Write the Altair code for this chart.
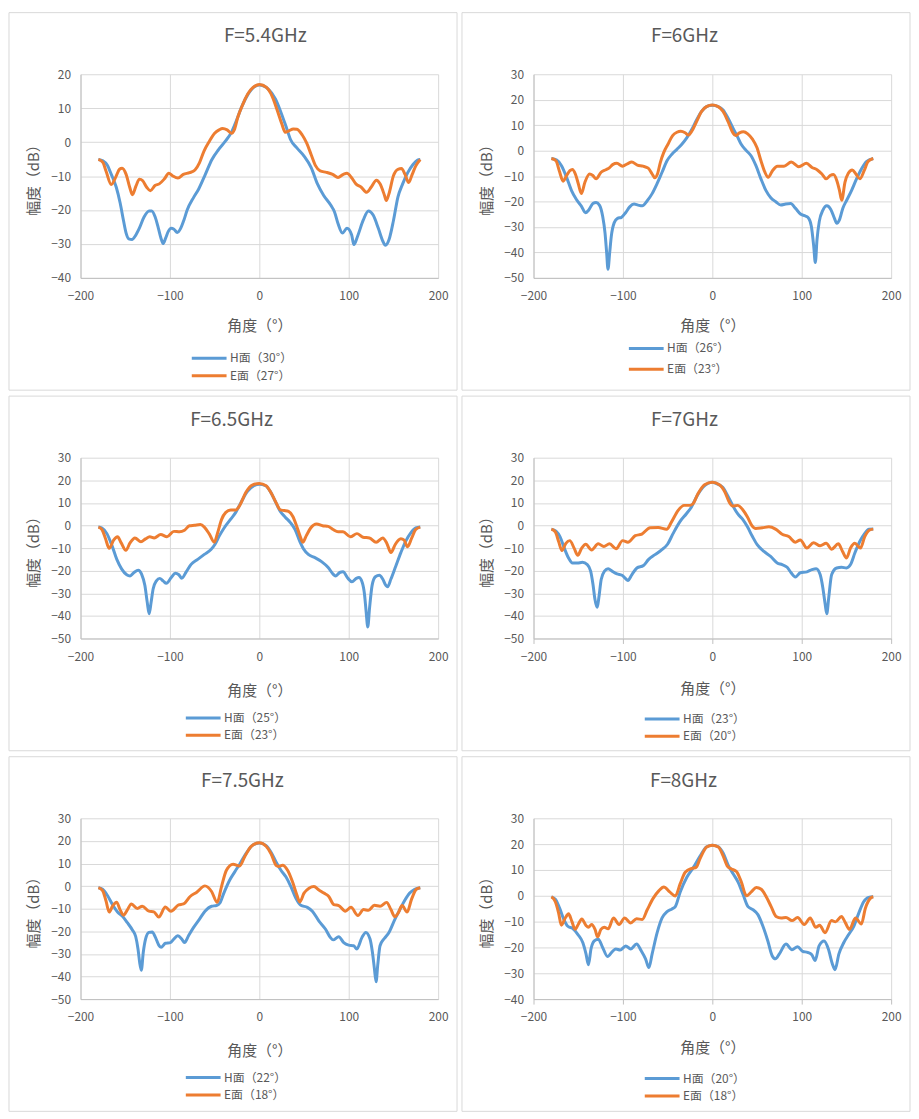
import altair as alt
import pandas as pd

FONT = "Noto Sans CJK SC"
TEXT = "#595959"
GRID = "#d9d9d9"
AXIS = "#bfbfbf"
BORDER = "#d9d9d9"
BLUE = "#5b9bd5"
ORANGE = "#ed7d31"

# ---- F=5.4GHz ----
h54_deg = [-180, -175, -170, -165.6, -160, -155.6, -152, -149, -146, -142.4, -138.7, -134.3, -128.8,
           -123.3, -120.3, -116.6, -112.9, -110, -107.7, -104.8, -101.8, -98.5, -95.5, -91.8, -88,
           -84.4, -80.7, -73.3, -67.8, -60.4, -53, -45.6, -38.2, -30.8, -25.4, -19.9, -12.4, -5, 0,
           10, 18, 24, 30, 35, 42, 50, 58, 65, 72, 80, 84, 88, 92.9, 98, 103.2, 105.8, 109.8, 116.2,
           122, 127.3, 133.1, 138.2, 141.1, 145.1, 150.1, 155, 160.3, 166, 171.9, 177, 180]
h54_db = [-5.1, -5.5, -6.8, -9.5, -13.3, -18, -23, -26.8, -28.5, -28.7, -27.6, -25.4, -22,
          -20.3, -20.3, -22, -25.4, -28.3, -29.9, -28.3, -26.3, -25.4, -25.7, -26.6, -25.4,
          -23, -20, -16.2, -13.8, -9.5, -5.1, -2.2, 0.2, 3.1, 6.5, 10.3, 14.2, 16.4, 16.8,
          15.6, 12.7, 8.9, 4.5, 0.7, -1.7, -4.1, -7.5, -12.3, -15.7, -18.6, -20.5, -24, -26.8, -25.4, -27.3,
          -30.2, -27.8, -23, -20.3, -21.5, -25.4, -29.2, -30.4, -28.7, -23, -16.2, -12.3, -9, -6.6, -5.3, -5.1]
e54_deg = [-180, -175, -171.5, -165.6, -160.1, -156.4, -153.5, -149, -145, -142, -137.8, -134.1, -130.4,
           -126, -121.9, -116.7, -111.9, -106.4, -101.2, -97.2, -91, -85, -78, -72, -67, -62, -56, -50,
           -45, -41, -36, -31, -28, -24, -19, -13, -7, 0, 8, 14, 20, 25, 29, 33, 38, 42, 48, 53, 58, 63,
           68, 75, 82, 88, 94, 98, 103, 108, 114, 120, 125, 131, 135, 140, 142, 145, 150, 155, 159, 163,
           167, 171, 175, 180]
e54_db = [-5.1, -6, -8.5, -12.5, -10, -8, -7.7, -9.5, -13.3, -15.5, -12.8, -10.9, -11.4,
          -13.3, -14.3, -12.8, -12.3, -10.9, -9.2, -9.9, -10.6, -9.5, -9, -8.2, -6.1, -2.7, 0.2, 2.6,
          3.6, 4, 3.6, 2.6, 3.6, 7.4, 10.8, 14.2, 16.1, 17, 16.1, 13.7, 9.4, 5.5, 2.9, 3.3, 3.9, 3.8,
          2.1, -0.3, -3.7, -7, -8.5, -8.9, -9.5, -10.4, -9.5, -9.2, -10.4, -12.3, -13.3, -14.8, -13.3,
          -11.2, -12.3, -15.7, -17.2, -15.2, -9.9, -8, -7.8, -9.5, -11.9, -9.5, -7, -5.1]

# ---- F=6GHz ----
h60_deg = [-180, -174, -168.7, -163, -157.6, -152, -146.5, -141.8, -138.4, -133.6, -130, -126.3, -122.6,
           -120, -118.2, -116.7, -114.8, -113, -109.7, -106, -101.6, -96.8, -92.4, -87.6, -83.1, -78.3,
           -72.8, -67.3, -61.8, -56.2, -50.7, -45.2, -39.6, -34.1, -28.6, -23, -17.5, -12, -6.5, 0, 6.5,
           12, 17.5, 23, 27.8, 32.3, 37.8, 43.3, 48.8, 54.4, 59.9, 65.4, 71, 76.5, 82, 87.6, 93.1, 98.6,
           104.1, 107.8, 110.8, 113.4, 115.2, 117.1, 119.6, 123.7, 128.1, 132.5, 136.6, 139.2, 142.2,
           145.9, 150.3, 155.8, 161.3, 166.8, 172.4, 180]
h60_db = [-3.1, -3.7, -5.9, -10.5, -15.6, -19.2, -21.8, -24.4, -23.4, -20.8, -20.4, -21.4, -25.9,
          -32.4, -40.1, -46.6, -40.1, -33.7, -28.3, -26.6, -26.2, -24.3, -22.1, -21, -21.4, -21.7,
          -19.7, -16.9, -13, -8.5, -4, -1.4, 0.5, 2.5, 5, 8.3, 12.1, 15.4, 17.3, 17.8, 17.3,
          16, 12.8, 8.9, 5.7, 2.5, 0.1, -2, -5.9, -11.1, -15.6, -18.5, -20.1, -21.4, -21, -20.8, -22.7, -24.9,
          -25.7, -26.6, -29.8, -37.5, -44, -35, -27.9, -23.4, -21.7, -23.1, -26.6, -28.5, -27.2,
          -22.7, -19.5, -15.6, -11.1, -7.2, -4.3, -3.1]
e60_deg = [-180, -174.9, -171.2, -166.8, -163, -159.3, -156.5, -153.2, -149.9, -146.5, -142.5, -137.3,
           -133.6, -130, -124.4, -118.9, -115.2, -111.5, -106.7, -100.5, -95, -90.1, -83.9, -77.6, -71.7,
           -67.3, -64.3, -61.4, -58.1, -54.4, -49.6, -44.4, -39.6, -35.2, -30.4, -26.7, -23, -17.5, -12,
           -6.5, 0, 6.5, 12, 17.5, 23, 26, 30.4, 34.8, 39.6, 45.1, 49.9, 54.4, 58.8, 62.5, 67.3, 72.8,
           80.2, 88.3, 96.8, 105.3, 111.5, 117.1, 122.6, 127.4, 131.8, 135.5, 139.2, 142.2, 144.7,
           148.4, 152.1, 156.5, 160.6, 165, 169.8, 174.2, 180]
e60_db = [-3.1, -4, -7.9, -12, -9.8, -7.9, -7.4, -9.2, -13, -16.9, -12.4, -9.2,
          -9.8, -11.1, -8.5, -7.5, -6.8, -5.5, -5, -6.1, -5.2, -4.5, -5.7, -6.1, -6.9,
          -9.2, -10.7, -9.2, -4.6, -0.8, 2.5, 5.9, 7.2, 7.6, 7, 6.1, 7.6, 11.5, 15.4,
          17.3, 17.9, 17.3, 15.4, 11.5, 7, 5.9, 7, 7.4, 6.6, 4.4, 1.2, -4, -8.5, -10.5, -7.9, -6.1,
          -6.1, -4.5, -6.3, -5, -6.6, -7.5, -9.2, -11.1, -9.8, -9.4, -11.7, -15.6, -19.5,
          -12.4, -8.9, -7.6, -9.2, -11.1, -7.9, -4.3, -3.1]

# ---- F=6.5GHz ----
h65_deg = [-180, -176, -170.5, -164.9, -159.4, -153.9, -148.3, -144.6, -140.2, -135.4, -131.7, -128,
           -125.4, -123.2, -121, -118.8, -115.1, -111.4, -107.7, -104, -98.5, -94, -90, -86.7, -81.8,
           -76.3, -68.9, -61.5, -54.1, -49.7, -44.9, -39.4, -32, -26.4, -20.9, -13.5, -6.1, 0, 7, 12.4,
           17.9, 23.5, 29, 34.5, 40, 45.6, 49.3, 54.8, 62.2, 69.6, 77, 82.5, 85.1, 89.9, 93.6, 99.2,
           103.6, 108.4, 111.4, 115.1, 117.6, 119.5, 121.3, 123.2, 126.1, 129.8, 134.3, 138, 141.7,
           143.5, 147.2, 152.7, 158.3, 163.8, 169.4, 174.9, 180]
h65_db = [-0.7, -1.1, -3.6, -8.8, -15, -19.3, -21.8, -22.3, -20.8, -19.8, -21.5, -26.6,
          -33.9, -39.1, -33.9, -28.1, -24.5, -23.4, -24.5, -25.6, -23, -21.1, -21.8, -23.3, -20.5,
          -17.2, -15, -12.8, -10.6, -8.4, -4.7, -1.1, 2.8, 5.8, 9.9, 15, 17.6, 18.3, 17.6, 15,
          10.6, 6.2, 3.7, 1.4, -1.8, -7.4, -10.3, -12.8, -14.2, -16, -18.6, -21.5, -22.3, -20.8, -20.5, -23.4,
          -24.9, -23.4, -23, -25.2, -30.3, -38.3, -44.9, -36.9, -26.6, -22.7, -22, -23.7, -26.6,
          -27.1, -23.7, -17.9, -12, -6.9, -3.3, -1.1, -0.7]
e65_deg = [-180, -176, -172.3, -167.9, -163, -158.6, -154.5, -149.3, -144.6, -139.1, -132.4, -127.3,
           -122.5, -117.6, -110.3, -103.3, -95.5, -89.2, -83.7, -78.1, -72.6, -65.9, -61.5, -56, -50.4,
           -46.7, -42.3, -37.5, -32, -26.4, -21.6, -15.3, -7.9, 0, 7.6, 13.1, 19, 23.5, 27.9, 32.7, 37.5,
           41.9, 45.6, 48.6, 52.3, 57.4, 64, 70.7, 77, 82.5, 88.1, 93.6, 101.8, 109.2, 115.9, 123.2,
           130.6, 138, 142.4, 147.2, 152, 158.3, 162, 165.7, 170.5, 174.9, 180]
e65_db = [-0.7, -1.8, -5.5, -10.1, -6.5, -5, -7.7, -11, -7.7, -5.5, -7.2, -5.9,
          -5, -5.5, -4, -5, -2.6, -2.8, -2.1, -0.1, 0.1, 0.4, -0.7, -3.7, -7.4,
          -3.3, 2.6, 5.8, 6.9, 6.9, 9.1, 14.5, 17.9, 18.6, 17.6, 14.5, 9.9, 6.9, 6.6, 6.2, 4,
          -0.4, -4.7, -7.4, -4.7, -1.1, 0.7, -0.1, -0.4, -1.8, -2.8, -2.8, -5, -3.6, -5.2, -5.5,
          -7.4, -5.5, -7.7, -12, -8.4, -5.9, -6.5, -9.4, -5.5, -1.8, -0.7]

# ---- F=7GHz ----
h70_deg = [-180, -174.9, -170.4, -165.6, -160.8, -156.4, -150.9, -145.3, -139.8, -136.1, -133.5, -131.3,
           -128.7, -126.9, -124.3, -120.6, -116.5, -112.1, -106.6, -101, -97.3, -94.4, -89.9, -84.4, -77,
           -71.5, -64.1, -56.7, -50.1, -43.8, -36.4, -29, -23.5, -17.9, -10.5, -5, 0, 6.1, 11.6, 17.2,
           22.7, 28.3, 33.8, 39.3, 44.9, 50.4, 57.8, 65.2, 72.6, 78.1, 83.7, 88.1, 92.9, 98.4, 105.8,
           111.4, 116.2, 120.6, 123.6, 126.2, 128, 130.2, 133.5, 139.1, 144.6, 150.1, 154.6, 159.4,
           164.9, 170.5, 175.3, 180]
h70_db = [-1.6, -2.5, -4.9, -10, -14.4, -16.6, -16.6, -16.3, -17.3, -20.2, -26, -32.6,
          -36.2, -31.9, -23.9, -20.2, -19.1, -20.2, -21.4, -22, -23.4, -24.3, -21.7, -18.8, -17.7,
          -15.1, -12.9, -10.8, -8.3, -3.5, 1.6, 5.2, 8.1, 12.5, 16.9, 18.6, 19.1, 18.3, 16.9, 13.2,
          8.9, 5.2, 2.8, -0.6, -4.9, -8.6, -11.5, -13.7, -16.6, -17.3, -18.5, -20.9, -22.8, -20.9, -20.5,
          -19.5, -19.1, -21.7, -27.5, -34.8, -39.1, -31.9, -21.7, -18.8, -18.5, -18.8, -17.3, -12.2,
          -7.1, -3.5, -1.7, -1.6]
e70_deg = [-180, -175.6, -171.9, -168.2, -163.8, -159.4, -154.6, -150.5, -146.1, -141.6, -135, -127.6,
           -121.3, -115, -107.7, -100.3, -94.4, -86.2, -78.8, -69.6, -60.4, -51.1, -45.6, -38.2, -31.6,
           -25.3, -21.6, -16.1, -8.7, 0, 7.9, 14.2, 19, 22.7, 28.3, 33.8, 39.3, 44.1, 48.6, 55.9, 63.3,
           70.7, 78.1, 85.5, 92.9, 98.4, 105.8, 113.2, 120.6, 127.3, 133.5, 140.9, 145.7, 150.1, 154.6,
           159.4, 165.7, 170.5, 176, 180]
e70_db = [-1.6, -2.8, -7.1, -11.1, -7.9, -6.7, -10, -13.2, -10, -8.3, -10.8, -8.1,
          -9.3, -8.1, -10.3, -6.7, -7.4, -4.5, -3.8, -1, -0.9, -1.7, 1.6, 6.7, 8.9,
          8.9, 9.6, 14, 18, 19.1, 18, 14.7, 10.3, 8.6, 8.9, 7.1, 3.8, 0.1, -1.3, -1, -0.6,
          -1.6, -3.9, -4.9, -7.4, -6.4, -10, -7.6, -9, -7.9, -10.5, -8.1, -11.5, -14.4, -10,
          -7.9, -10, -4.9, -2, -1.6]

# ---- F=7.5GHz ----
h75_deg = [-180, -175.3, -169.7, -164.2, -158.6, -153.1, -147.6, -142, -138.3, -135.7, -133.9, -132,
           -129.8, -127.2, -123.5, -119.8, -116.2, -112.5, -109.9, -105.1, -99.5, -95.8, -91.4, -86.6,
           -83.7, -79.2, -73.7, -67.1, -60.8, -53.4, -47.8, -44.1, -39.7, -33.1, -27.5, -22, -14.6, -7.2,
           0, 7.6, 13.1, 18.7, 24.2, 29.7, 35.3, 40.8, 46.4, 53.7, 59.3, 66.7, 74.1, 79.6, 82.5, 88.8,
           94.4, 99.9, 105.5, 109.1, 114.7, 119.1, 123.9, 126.5, 128.7, 130.6, 132.4, 135, 139.8, 145,
           151.6, 157.2, 162.7, 168.2, 173.8, 180]
h75_db = [-0.7, -1.4, -4.3, -8.2, -11.5, -13.3, -16.2, -19.4, -22.3, -27.8, -33.6, -37.2,
          -29.3, -23.4, -20.5, -20.3, -22.7, -26.1, -27.1, -25.3, -25, -23.5, -22, -23.5,
          -25, -22, -18.4, -14.7, -11.1, -8.9, -8.6, -7.5, -3.1, 2.7, 6.3, 9.7, 14.6, 18.2,
          19.1, 17.9, 15, 10.7, 7, 4.1, -0.2, -5.3, -8.5, -9.4, -11.1, -15.5, -19.1, -22.8, -23.8, -22.4,
          -25, -26.1, -26.4, -27.8, -22.8, -20.5, -23.5, -29.3, -36.5, -42.3, -35.1, -26.4, -23.2, -20.5,
          -14.7, -10.4, -6.3, -3.1, -1.4, -0.7]
e75_deg = [-180, -175.3, -171.6, -167.9, -164.2, -159.7, -155.7, -152, -147.6, -143.1, -136.5, -130.9,
           -123.5, -118, -112.5, -105.1, -98.8, -90.3, -84.8, -77.4, -70, -60.8, -53.4, -47.1, -42.3,
           -36.8, -29.4, -22, -16.5, -9.1, 0, 7.6, 13.1, 18.7, 21.6, 26, 31.6, 37.1, 41.9, 45.2, 50,
           55.6, 61.1, 66.7, 72.2, 77.7, 83.3, 88.8, 96.2, 102.5, 110.3, 116.6, 122.1, 128.7, 135,
           142.4, 147.2, 151.6, 155.3, 159.7, 165.3, 170.1, 175.6, 180]
e75_db = [-0.7, -2, -6.4, -11.5, -8.9, -7.1, -10.5, -12.9, -10.5, -7.9, -9.9, -8.9,
          -11.1, -11.4, -13.7, -9.3, -11.1, -8.3, -7.9, -4.6, -2.7, 0.1, -2.4, -7.2, -0.2,
          7, 9.7, 8.9, 12.9, 17.6, 19.2, 17.6, 14.3, 9.2, 8.7, 9.2, 7, 1.9, -3.8, -7, -3.1,
          -0.9, -0.2, -1.7, -3.1, -4.6, -8.2, -8.6, -11.1, -9.4, -13, -10.4, -10.7, -8.5, -8.9,
          -7.2, -10.4, -13.6, -11.9, -8.6, -11.5, -6, -1.4, -0.7]

# ---- F=8GHz ----
h80_deg = [-180, -175.6, -170.8, -166, -161.6, -156, -150.5, -144.9, -141.3, -138.6, -135.7, -132,
           -127.5, -122.7, -117.2, -111.6, -107.9, -103.1, -96.9, -91.3, -84.7, -79.5, -74.7, -71, -67.3,
           -61.7, -56.2, -50.6, -45.1, -41.4, -35.9, -28.5, -21.1, -13.7, -6.3, 0, 6.7, 12.2, 17.7, 23.3,
           28.8, 34.4, 39.9, 45.5, 51, 56.6, 62.1, 66.9, 70.6, 75, 82.4, 89.1, 95.4, 101, 106.5, 111.3,
           115, 119.4, 125, 129.8, 134.2, 137.2, 141.6, 147.1, 152.7, 158.2, 163.8, 169.3, 174.9, 180]
h80_db = [-0.4, -1.3, -4.8, -9.2, -11.8, -12.7, -14.9, -18.1, -22.5, -26.7, -20.6, -17.5,
          -16.8, -20, -23.5, -21.5, -20.6, -21, -19.4, -20.6, -18.7, -21.3, -24.4, -27.8, -22.5,
          -14.3, -8.6, -6.1, -5.1, -4.2, 1.5, 7.2, 11, 15.4, 19, 19.6, 19, 16.5, 11.9, 8.5,
          5.3, 0.5, -4.2, -5.4, -7.3, -11.8, -17.5, -23.2, -24.4, -22.5, -18.7, -20.9, -19.7, -21.5, -21.9, -22.8,
          -25.1, -19.4, -17.5, -20.6, -26.3, -28.6, -22.5, -18.1, -14.9, -11.8, -6.7, -2.3, -0.6, -0.4]
e80_deg = [-180, -175.6, -171.9, -168.9, -164.5, -160.8, -157.1, -153.4, -149.7, -146, -141.3, -138.6,
           -135, -131.2, -128.3, -124.6, -120.9, -116.5, -110.5, -104.3, -98, -91.3, -84.7, -78.4, -72.8,
           -66.2, -59.9, -54.3, -47.7, -41.4, -35.9, -30.3, -22.9, -18.1, -13.7, -6.3, 0, 6.7, 12.2, 17,
           21.4, 27, 32.5, 38.1, 43.6, 49.2, 54.7, 60.3, 65.8, 71.3, 76.9, 82.4, 89.1, 95.4, 102.8, 109.5,
           115.7, 120.1, 126, 133.4, 137.8, 144.5, 148.9, 153.4, 160.1, 166.7, 171.2, 176.7, 180]
e80_db = [-0.4, -2.3, -6.7, -11.4, -8.6, -7, -9.9, -13, -10.9, -9, -11.5, -12.2,
          -11.1, -13, -15.9, -13, -12.2, -12.8, -8.6, -11.1, -8.6, -10.5, -8.9, -9.2, -5.4,
          -1, 1.9, 3.4, 1.5, -0.1, 4.7, 9.1, 10.6, 11, 14.4, 18.9, 19.6, 18.9, 15.4, 11.4,
          10.4, 9.4, 5.3, 0, 1.5, 3.2, 2.5, -0.4, -4.2, -8, -8.6, -8.4, -9.6, -8.4, -11.1, -8.6,
          -12.2, -11.4, -14.3, -9.6, -10.1, -8, -10.5, -13, -8.6, -10.9, -4.8, -1, -0.4]

titles = ["F=5.4GHz", "F=6GHz", "F=6.5GHz", "F=7GHz", "F=7.5GHz", "F=8GHz"]
h_names = ["H面（30°）", "H面（26°）", "H面（25°）", "H面（23°）", "H面（22°）", "H面（20°）"]
e_names = ["E面（27°）", "E面（23°）", "E面（23°）", "E面（20°）", "E面（18°）", "E面（18°）"]
y_domains = [(-40, 20), (-50, 30), (-50, 30), (-50, 30), (-50, 30), (-40, 30)]
x_ticks = [-200, -100, 0, 100, 200]

series = [
    (h54_deg, h54_db, e54_deg, e54_db),
    (h60_deg, h60_db, e60_deg, e60_db),
    (h65_deg, h65_db, e65_deg, e65_db),
    (h70_deg, h70_db, e70_deg, e70_db),
    (h75_deg, h75_db, e75_deg, e75_db),
    (h80_deg, h80_db, e80_deg, e80_db),
]

# layout of each panel, in pixels relative to the plot area's top left corner
PLOT_W = 360
layout = [
    dict(height=205, title_x=186, xtitle=48, legend_x=112, legend_y=81, gap=3.5, ticks=False),
    dict(height=205, title_x=152, xtitle=48, legend_x=96, legend_y=71, gap=7, ticks=False),
    dict(height=182, title_x=152, xtitle=52, legend_x=106, legend_y=80, gap=3.5, ticks=False),
    dict(height=182, title_x=152, xtitle=50, legend_x=112, legend_y=81, gap=3.5, ticks=True),
    dict(height=182, title_x=163, xtitle=52, legend_x=106, legend_y=79, gap=3.5, ticks=False),
    dict(height=182, title_x=151, xtitle=49, legend_x=112, legend_y=80, gap=3.5, ticks=True),
]


def make_panel(title, h_name, e_name, data, y_domain, cfg):
    h_deg, h_db, e_deg, e_db = data
    height = cfg["height"]
    h_frame = pd.DataFrame({"angle": h_deg, "db": h_db, "series": h_name})
    e_frame = pd.DataFrame({"angle": e_deg, "db": e_db, "series": e_name})

    tick_len = 5 if cfg["ticks"] else 0
    x = alt.X(
        "angle:Q",
        scale=alt.Scale(domain=[-200, 200], nice=False),
        axis=alt.Axis(
            values=x_ticks,
            title="角度（°）",
            titleX=PLOT_W / 2,
            titleY=cfg["xtitle"],
            titleBaseline="middle",
            ticks=cfg["ticks"],
            tickSize=max(tick_len, 1),
            tickColor=AXIS,
            labelPadding=13 - tick_len,
            labelFlush=False,
        ),
    )
    y = alt.Y(
        "db:Q",
        scale=alt.Scale(domain=list(y_domain), nice=False),
        axis=alt.Axis(
            values=list(range(y_domain[0], y_domain[1] + 1, 10)),
            title="幅度（dB）",
            titleX=-47,
            titleY=height / 2,
            titleBaseline="middle",
            ticks=False,
            labelPadding=10,
        ),
    )
    color = alt.Color(
        "series:N",
        scale=alt.Scale(domain=[h_name, e_name], range=[BLUE, ORANGE]),
        legend=alt.Legend(
            title=None,
            orient="none",
            direction="vertical",
            legendX=cfg["legend_x"] - 1.5,
            legendY=height + cfg["legend_y"] - 7,
            symbolType="stroke",
            symbolSize=1225,
            symbolStrokeWidth=3,
            clipHeight=14,
            rowPadding=cfg["gap"],
            padding=0,
            labelOffset=2,
            labelFont=FONT,
            labelFontSize=12,
            labelColor=TEXT,
            labelLimit=200,
        ),
    )

    h_line = alt.Chart(h_frame).mark_line(strokeWidth=3, interpolate="monotone").encode(x=x, y=y, color=color)
    e_line = alt.Chart(e_frame).mark_line(strokeWidth=3, interpolate="monotone").encode(x=x, y=y, color=color)

    box = alt.Chart(alt.Data(values=[{}])).mark_rect(
        filled=False, stroke=BORDER, strokeWidth=1
    ).encode(
        x=alt.value(-72), x2=alt.value(PLOT_W + 19),
        y=alt.value(-62), y2=alt.value(height + 113),
    )
    head = alt.Chart(alt.Data(values=[{}])).mark_text(
        text=title, font=FONT, fontSize=19, color=TEXT, align="center", baseline="alphabetic"
    ).encode(x=alt.value(cfg["title_x"]), y=alt.value(-32))

    return alt.layer(box, h_line, e_line, head).properties(width=PLOT_W, height=height)


panels = [
    make_panel(titles[i], h_names[i], e_names[i], series[i], y_domains[i], layout[i])
    for i in range(6)
]

chart = (
    alt.concat(*panels, columns=2, spacing=alt.RowColnumber(row=4, column=3), align="each")
    .resolve_scale(color="independent", x="independent", y="independent")
    .properties(padding=0, background="white")
    .configure(font=FONT)
    .configure_view(stroke=None)
    .configure_axis(
        labelFont=FONT,
        labelFontSize=12,
        labelColor=TEXT,
        titleFont=FONT,
        titleFontSize=15,
        titleFontWeight="normal",
        titleColor=TEXT,
        gridColor=GRID,
        gridWidth=1,
        domainColor=AXIS,
        domainWidth=1,
    )
)

chart.save("out.html", embed_options={"renderer": "svg", "actions": False})
